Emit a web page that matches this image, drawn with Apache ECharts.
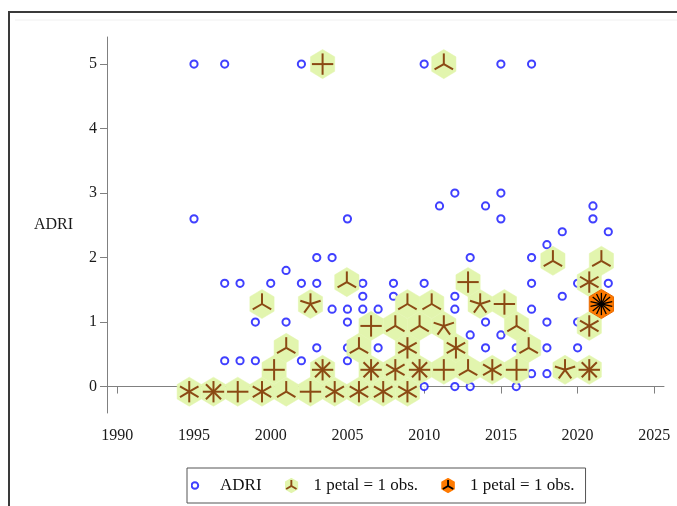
<!DOCTYPE html>
<html><head><meta charset="utf-8">
<script src="https://cdn.jsdelivr.net/npm/echarts@6/dist/echarts.min.js"></script>
<style>html,body{margin:0;padding:0;background:#fff}#c{width:677px;height:506px}</style>
</head><body><div id="c"></div><script>
// ---- tick labels ----
const xTicks = [1990, 1995, 2000, 2005, 2010, 2015, 2020, 2025];
const yTicks = [0, 1, 2, 3, 4, 5];

// ---- individual observations (ADRI circles) ----
const adriYear = [
  1995, 1997, 2002, 2010, 2015, 2017,
  2012, 2015,
  2011, 2014, 2021,
  1995, 2005, 2015, 2021,
  2019, 2022,
  2018,
  2003, 2004, 2013, 2017,
  2001,
  1997, 1998, 2000, 2002, 2003, 2006, 2008, 2010, 2017, 2020, 2022,
  2006, 2008, 2012, 2019,
  2004, 2005, 2006, 2007, 2012, 2017,
  1999, 2001, 2005, 2014, 2018, 2020,
  2013, 2015,
  2003, 2005, 2007, 2014, 2016, 2018, 2020,
  1997, 1998, 1999, 2002, 2005,
  2017, 2018,
  2010, 2012, 2013, 2016
];
const adriValue = [
  5, 5, 5, 5, 5, 5,
  3, 3,
  2.8, 2.8, 2.8,
  2.6, 2.6, 2.6, 2.6,
  2.4, 2.4,
  2.2,
  2, 2, 2, 2,
  1.8,
  1.6, 1.6, 1.6, 1.6, 1.6, 1.6, 1.6, 1.6, 1.6, 1.6, 1.6,
  1.4, 1.4, 1.4, 1.4,
  1.2, 1.2, 1.2, 1.2, 1.2, 1.2,
  1, 1, 1, 1, 1, 1,
  0.8, 0.8,
  0.6, 0.6, 0.6, 0.6, 0.6, 0.6, 0.6,
  0.4, 0.4, 0.4, 0.4, 0.4,
  0.2, 0.2,
  0, 0, 0, 0
];

// ---- light sunflowers (bin centre x, bin centre y, petals) ----
const lightX = [
  1994.69, 1996.27, 1997.85, 1999.43, 2001.01, 2002.59, 2004.17, 2005.75, 2007.33, 2008.91,
  2000.22, 2003.38, 2006.54, 2008.12, 2009.70, 2011.28, 2012.86, 2014.44, 2016.02, 2019.18, 2020.76,
  2001.01, 2005.75, 2008.91, 2012.07, 2016.81,
  2006.54, 2008.12, 2009.70, 2011.28, 2016.02, 2020.76,
  1999.43, 2002.59, 2008.91, 2010.49, 2013.65, 2015.23,
  2004.96, 2012.86, 2020.76,
  2018.39, 2021.55,
  2003.38, 2011.28
];
const lightY = [
  -0.08, -0.08, -0.08, -0.08, -0.08, -0.08, -0.08, -0.08, -0.08, -0.08,
  0.26, 0.26, 0.26, 0.26, 0.26, 0.26, 0.26, 0.26, 0.26, 0.26, 0.26,
  0.60, 0.60, 0.60, 0.60, 0.60,
  0.94, 0.94, 0.94, 0.94, 0.94, 0.94,
  1.28, 1.28, 1.28, 1.28, 1.28, 1.28,
  1.62, 1.62, 1.62,
  1.95, 1.95,
  5.0, 5.0
];
const lightPetals = [
  6, 8, 4, 6, 3, 4, 6, 6, 6, 6,
  4, 8, 8, 6, 8, 4, 3, 6, 4, 5, 8,
  3, 3, 6, 6, 3,
  4, 3, 3, 5, 3, 6,
  3, 5, 3, 3, 5, 4,
  3, 4, 6,
  3, 3,
  4, 3
];

// ---- dark sunflowers ----
const darkX = [2021.55];
const darkY = [1.28];
const darkPetals = [14];

// hexagonal bin size in data units
const BIN_W = 1.58, BIN_H = 0.3387;
const SERIF = "'Liberation Serif','Times New Roman',serif";

function flower(fill, edge, stroke, lw, lenF) {
  return function (params, api) {
    const c = api.coord([api.value(0), api.value(1)]);
    const s = api.size([BIN_W, BIN_H]);
    const hw = s[0] / 2, hh = s[1] * 2 / 3;
    const pts = [[c[0], c[1] - hh], [c[0] + hw, c[1] - hh / 2], [c[0] + hw, c[1] + hh / 2],
                 [c[0], c[1] + hh], [c[0] - hw, c[1] + hh / 2], [c[0] - hw, c[1] - hh / 2]];
    const n = api.value(2), L = s[0] * lenF;
    const ch = [{ type: 'polygon', z2: 0, shape: { points: pts },
      style: { fill: fill, stroke: edge || fill, lineWidth: edge ? 1 : 0.5 } }];
    for (let i = 0; i < n; i++) {
      const a = Math.PI / 2 + i * 2 * Math.PI / n;
      ch.push({ type: 'line', z2: 10,
        shape: { x1: c[0], y1: c[1], x2: c[0] + L * Math.cos(a), y2: c[1] - L * Math.sin(a) },
        style: { stroke: stroke, lineWidth: lw } });
    }
    return { type: 'group', children: ch };
  };
}

function svgIcon(body) {
  const svg = "<svg xmlns='http://www.w3.org/2000/svg' width='24' height='16' viewBox='0 0 24 16'>" + body + "</svg>";
  return 'image://data:image/svg+xml;charset=utf-8,' + encodeURIComponent(svg);
}
function hexIcon(cx, fill, stroke) {
  const p = [[cx, 0.3], [cx + 6.8, 4.2], [cx + 6.8, 11.8], [cx, 15.7], [cx - 6.8, 11.8], [cx - 6.8, 4.2]].map(q => q.join(',')).join(' ');
  return "<polygon points='" + p + "' fill='" + fill + "'/>" +
    "<line x1='" + cx + "' y1='8.5' x2='" + cx + "' y2='2.5' stroke='" + stroke + "' stroke-width='1.9'/>" +
    "<line x1='" + cx + "' y1='8.5' x2='" + (cx - 5.2) + "' y2='11.5' stroke='" + stroke + "' stroke-width='1.9'/>" +
    "<line x1='" + cx + "' y1='8.5' x2='" + (cx + 5.2) + "' y2='11.5' stroke='" + stroke + "' stroke-width='1.9'/>";
}
const iconCircle = svgIcon("<circle cx='3.9' cy='8' r='3.3' fill='none' stroke='#1010ff' stroke-width='2'/>");
const iconLight = svgIcon(hexIcon(6.8, '#e2f5ae', '#8b4a14'));
const iconDark = svgIcon(hexIcon(7.0, '#ff7a00', '#000'));

const chart = echarts.init(document.getElementById('c'), null, { renderer: 'canvas' });
chart.setOption({
  animation: false,
  backgroundColor: '#fff',
  grid: { left: 107, right: 13, top: 37, bottom: 93, outerBoundsMode: 'none' },
  xAxis: {
    type: 'value', min: 1989.33, max: 2025.63,
    splitLine: { show: false },
    axisLine: { show: true, lineStyle: { color: '#808080', width: 1 } },
    axisTick: { show: true, length: 7, customValues: xTicks, lineStyle: { color: '#808080' } },
    axisLabel: { customValues: xTicks, margin: 15, fontFamily: SERIF, fontSize: 16, color: '#1a1a1a',
      formatter: function (v) { return String(v); } }
  },
  yAxis: {
    type: 'value', min: -0.41, max: 5.42,
    name: 'ADRI', nameLocation: 'middle', nameRotate: 0, nameGap: 34,
    nameTextStyle: { fontFamily: SERIF, fontSize: 16, color: '#1a1a1a' },
    splitLine: { show: false },
    axisLine: { show: true, lineStyle: { color: '#808080', width: 1 } },
    axisTick: { show: true, length: 7, customValues: yTicks, lineStyle: { color: '#808080' } },
    axisLabel: { customValues: yTicks, margin: 10, fontFamily: SERIF, fontSize: 16, color: '#1a1a1a',
      formatter: function (v) { return String(v); } }
  },
  legend: {
    left: 187, top: 468, orient: 'horizontal',
    padding: [9, 11, 9, 4], itemWidth: 24, itemHeight: 16, itemGap: 23,
    borderColor: '#555', borderWidth: 1, backgroundColor: '#fff',
    textStyle: { fontFamily: SERIF, fontSize: 17, color: '#111' },
    formatter: function (n) { return n === 'ADRI' ? 'ADRI' : '1 petal = 1 obs.'; },
    data: [{ name: 'ADRI', icon: iconCircle }, { name: 'light', icon: iconLight }, { name: 'dark', icon: iconDark }]
  },
  graphic: [
    { type: 'rect', silent: true, z: -10, shape: { x: 9, y: 12, width: 700, height: 600 },
      style: { fill: 'none', stroke: '#3a3a3a', lineWidth: 2 } },
    { type: 'line', silent: true, z: -10, shape: { x1: 15, y1: 20, x2: 677, y2: 20 },
      style: { stroke: '#f0f0f0', lineWidth: 1 } }
  ],
  series: [
    {
      name: 'ADRI', type: 'scatter', z: 2,
      symbol: 'emptyCircle', symbolSize: 7.2,
      itemStyle: { color: '#1010ff', borderWidth: 2 },
      data: adriYear.map((x, i) => [x, adriValue[i]])
    },
    {
      name: 'light', type: 'custom', z: 3,
      renderItem: flower('#e2f5ae', null, '#8b4a14', 2, 0.44),
      encode: { x: 0, y: 1 },
      data: lightX.map((x, i) => [x, lightY[i], lightPetals[i]])
    },
    {
      name: 'dark', type: 'custom', z: 4,
      renderItem: flower('#ff7a00', '#e86a00', '#000', 1.3, 0.46),
      encode: { x: 0, y: 1 },
      data: darkX.map((x, i) => [x, darkY[i], darkPetals[i]])
    }
  ]
});
</script></body></html>
